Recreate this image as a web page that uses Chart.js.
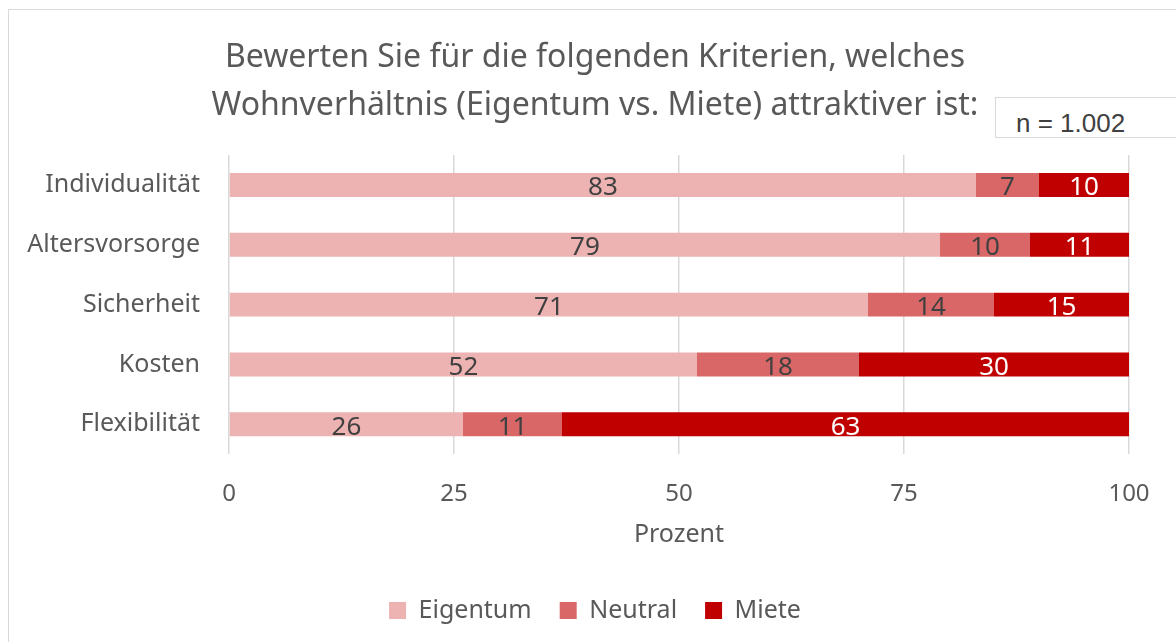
<!DOCTYPE html>
<html>
<head>
<meta charset="utf-8">
<script src="https://cdn.jsdelivr.net/npm/chart.js@4"></script>
<style>
  body { margin: 0; background: #fff; overflow: hidden; }
  #wrap { position: absolute; left: 0; top: 0; width: 1176px; height: 642px; overflow: hidden; }
  #frame { position: absolute; left: 8px; top: 9px; width: 1300px; height: 800px; border: 1px solid #d9d9d9; }
  #myChart { position: absolute; left: 0; top: 0; }
  #nbox { position: absolute; left: 995px; top: 97px; width: 200px; height: 41px; border: 1px solid #d9d9d9;
          background: #fff; font-family: "Liberation Sans", Arial, sans-serif; font-size: 26px; color: #404040;
          line-height: 50px; padding-left: 20px; box-sizing: border-box; }
</style>
</head>
<body>
<div id="wrap">
  <div id="frame"></div>
  <canvas id="myChart" width="1181" height="642"></canvas>
  <div id="nbox">n = 1.002</div>
</div>
<script>
// data
const kriterien = ["Individualität", "Altersvorsorge", "Sicherheit", "Kosten", "Flexibilität"];
const eigentum = [83, 79, 71, 52, 26];
const neutral = [7, 10, 14, 18, 11];
const miete = [10, 11, 15, 30, 63];
const xTicks = [0, 25, 50, 75, 100];

const grey = "#595959";
const fontName = "'Noto Sans', 'Open Sans', sans-serif";

// draws the numbers inside the bars (no datalabels plugin available offline)
const barLabels = {
  id: "barLabels",
  afterDatasetsDraw(chart) {
    const ctx = chart.ctx;
    ctx.save();
    ctx.font = "26px " + fontName;
    ctx.textAlign = "center";
    ctx.textBaseline = "middle";
    chart.data.datasets.forEach((ds, i) => {
      const meta = chart.getDatasetMeta(i);
      meta.data.forEach((bar, j) => {
        ctx.fillStyle = i == 2 ? "#ffffff" : "#404040";
        ctx.fillText(ds.data[j], (bar.x + bar.base) / 2, bar.y + 3);
      });
    });
    ctx.restore();
  }
};

new Chart("myChart", {
  type: "bar",
  data: {
    labels: kriterien,
    datasets: [
      { label: "Eigentum", data: eigentum, backgroundColor: "#edb2b2" },
      { label: "Neutral", data: neutral, backgroundColor: "#d96767" },
      { label: "Miete", data: miete, backgroundColor: "#c00000" }
    ]
  },
  options: {
    indexAxis: "y",
    responsive: false,
    animation: false,
    layout: { padding: { left: 9, right: 0, top: 9, bottom: 9 } },
    datasets: { bar: { barPercentage: 0.4, categoryPercentage: 1 } },
    scales: {
      x: {
        stacked: true,
        min: 0,
        max: 100,
        afterBuildTicks(scale) { scale.ticks = xTicks.map(v => ({ value: v })); },
        grid: { color: "#d9d9d9", drawTicks: false, lineWidth: 1.5 },
        border: { display: false },
        ticks: { color: grey, font: { family: fontName, size: 24 }, padding: 26 },
        title: { display: true, text: "Prozent", color: grey, font: { family: fontName, size: 25 }, padding: { top: -15, bottom: 20 } }
      },
      y: {
        stacked: true,
        afterFit(scale) { scale.width = 220; },
        grid: { display: false },
        border: { display: false },
        ticks: { color: grey, font: { family: fontName, size: 25 }, padding: 21 }
      },
      // empty space on the right so title and legend sit where they do in the original
      yRight: {
        axis: "y",
        type: "category",
        position: "right",
        grid: { display: false },
        border: { display: false },
        ticks: { display: false },
        afterFit(scale) { scale.width = 52; }
      }
    },
    plugins: {
      title: {
        display: true,
        text: ["Bewerten Sie für die folgenden Kriterien, welches", "Wohnverhältnis (Eigentum vs. Miete) attraktiver ist:"],
        color: grey,
        font: { family: fontName, size: 32, weight: "normal", lineHeight: 1.5 },
        padding: { top: 25, bottom: 25 }
      },
      legend: {
        position: "bottom",
        labels: { color: grey, font: { family: fontName, size: 25 }, boxWidth: 17, boxHeight: 17, padding: 28 }
      },
      tooltip: { enabled: false }
    }
  },
  plugins: [barLabels]
});
</script>
</body>
</html>
